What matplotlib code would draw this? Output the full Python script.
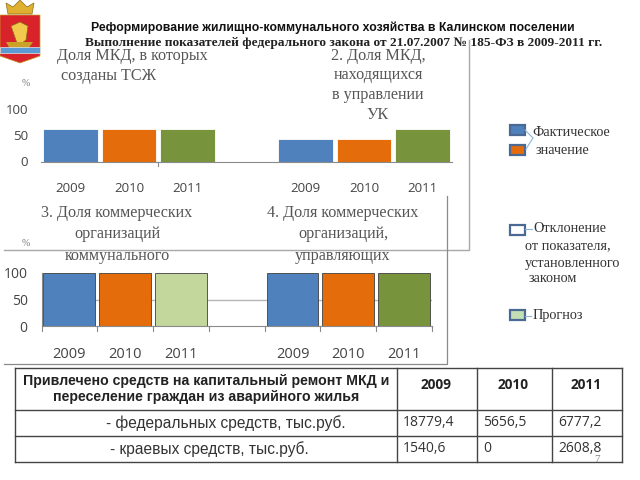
import matplotlib
matplotlib.use("Agg")
import matplotlib.pyplot as plt
import numpy as np
from matplotlib.patches import Polygon, Rectangle

years = ["2009", "2010", "2011", "", "2009", "2010", "2011"]
top_values = [62, 62, 62, 0, 43, 43, 62]
bottom_values = [100, 100, 100, 0, 100, 100, 100]
top_colors = ["#4f81bd", "#e46c0a", "#77933c", "white", "#4f81bd", "#e46c0a", "#77933c"]
bottom_colors = ["#4f81bd", "#e46c0a", "#c3d69b", "white", "#4f81bd", "#e46c0a", "#77933c"]
y_ticks = [0, 50, 100]

table_head = "Привлечено средств на капитальный ремонт МКД и\nпереселение граждан из аварийного жилья"
table_years = ["2009", "2010", "2011"]
row_names = ["- федеральных средств, тыс.руб.", "- краевых средств, тыс.руб."]
federal = ["18779,4", "5656,5", "6777,2"]
regional = ["1540,6", "0", "2608,8"]

SANS = "Open Sans"
SERIF = "Liberation Serif"
GREY_TXT = "#555555"

fig = plt.figure(figsize=(6.4, 4.8), dpi=100)

# overlay in pixel coordinates, for frames, captions, legend and table
bg = fig.add_axes([0, 0, 1, 1])
bg.set_xlim(0, 640)
bg.set_ylim(480, 0)
bg.axis("off")


def px_axes(l, t, r, b):
    a = fig.add_axes([l / 640, 1 - b / 480, (r - l) / 640, (b - t) / 480])
    a.patch.set_alpha(0)
    return a


def chart(a, values, colors, edge):
    a.bar(np.arange(len(values)), values, width=0.93, color=colors, edgecolor=edge, linewidth=0.6)
    a.set_xlim(-0.5, 6.5)
    a.set_ylim(0, 100)
    a.set_yticks(y_ticks)
    a.set_xticks(np.arange(len(years)))
    a.set_xticklabels(years, fontfamily=SANS, fontsize=9.5, color="#444444")
    a.tick_params(axis="y", labelsize=9.5, length=0, pad=9.5, labelcolor="#444444")
    for lab in a.get_yticklabels():
        lab.set_fontfamily(SANS)
    for s in ["top", "right", "left"]:
        a.spines[s].set_visible(False)
    a.spines["bottom"].set_color("#8a8a8a")


# frames left over from the slide
bg.plot([4, 468.5, 468.5], [249.5, 249.5, 40], color="#a8a8a8", lw=1)
bg.plot([4, 447, 447], [364, 364, 196], color="#8a8a8a", lw=0.9)

# top pair of charts
ax1 = px_axes(41, 109, 452, 161.5)
chart(ax1, top_values, top_colors, "white")
ax1.tick_params(axis="x", length=0, pad=15)
ax1.plot([1.5, 1.5], [0, -9], color="#8a8a8a", lw=0.8, clip_on=False)

# bottom pair of charts
ax2 = px_axes(41.5, 273, 432, 326)
ax2.axhline(50, color="#b5b5b5", lw=1, zorder=0)
chart(ax2, bottom_values, bottom_colors, "#404040")
ax2.tick_params(axis="x", length=0, pad=15, labelsize=10.5)
ax2.tick_params(axis="y", labelsize=10, pad=10)
ax2.spines["left"].set_visible(True)
ax2.spines["left"].set_color("#8a8a8a")
ax2.spines["left"].set_bounds(0, 100)
for xt in np.arange(-0.5, 7):
    ax2.plot([xt, xt], [0, -9], color="#8a8a8a", lw=0.8, clip_on=False)

# captions
titles = [
    (57, 56, "Доля МКД, в которых", "left"), (61, 76, "созданы ТСЖ", "left"),
    (378, 56, "2. Доля МКД,", "center"), (378, 75, "находящихся", "center"),
    (378, 95, "в управлении", "center"), (378, 115, "УК", "center"),
    (117, 213, "3. Доля коммерческих", "center"), (117, 234, "организаций", "center"),
    (117, 256, "коммунального", "center"),
    (343, 213, "4. Доля коммерческих", "center"), (343, 234, "организаций,", "center"),
    (343, 256, "управляющих", "center"),
]
for x, y, s, ha in titles:
    bg.text(x, y, s, family=SERIF, fontsize=11.6, color=GREY_TXT, ha=ha, va="center")
bg.text(26, 83, "%", family=SERIF, fontsize=7, color="#777777", ha="center", va="center")
bg.text(26, 244, "%", family=SERIF, fontsize=7, color="#777777", ha="center", va="center")

bg.text(333, 28, "Реформирование жилищно-коммунального хозяйства в Калинском поселении",
        family="Liberation Sans", fontsize=8.85, weight="bold", color="#111111", ha="center", va="center")
bg.text(344, 43, "Выполнение показателей федерального закона от 21.07.2007 № 185-ФЗ в 2009-2011 гг.",
        family=SERIF, fontsize=9.6, weight="bold", color="#222222", ha="center", va="center")

# emblem
bg.add_patch(Polygon([(0, 15), (40, 15), (40, 56), (20, 63), (0, 56)], fc="#d8232a", ec="#c9a227", lw=0.5))
bg.add_patch(Polygon([(8, 14), (6, 3), (13, 7), (20, 0), (27, 7), (34, 3), (32, 14)], fc="#e0b030", ec="#8a6d1a", lw=0.5))
bg.add_patch(Polygon([(11, 26), (20, 22), (28, 26), (26, 40), (18, 46)], fc="#f2c94c", ec="#8a6d1a", lw=0.5))
bg.add_patch(Polygon([(6, 42), (33, 42), (28, 49), (10, 49)], fc="#c9a227", ec="none"))
bg.add_patch(Polygon([(0, 47), (40, 47), (40, 53), (0, 53)], fc="#5b9bd5", ec="#e8e8e8", lw=0.5))

# legend
legend_boxes = [
    (510, 125, "#4f81bd"), (510, 145, "#e46c0a"),
    (510, 225, "white"), (510, 310, "#c3e0b4"),
]
for x, y, c in legend_boxes:
    bg.add_patch(Rectangle((x, y), 15, 10, fc=c, ec="#4a6a94", lw=1.6))
bg.plot([525, 533, 526], [130, 138, 149], color="#8db3d9", lw=0.8)
bg.plot([525, 532], [229, 229], color="#8db3d9", lw=0.8)
bg.plot([525, 531], [316, 316], color="#8db3d9", lw=0.8)
legend_text = [
    (532, 133, "Фактическое"), (536, 151, "значение"),
    (533, 228, "Отклонение"), (525, 246, "от показателя,"), (525, 263, "установленного"), (529, 279, "законом"),
    (533, 316, "Прогноз"),
]
for x, y, s in legend_text:
    bg.text(x, y, s, family=SERIF, fontsize=10.3, color="#333333", va="center")

# table
col_x = [15, 397, 477, 552, 622]
row_y = [368, 410, 436, 462]
for x in col_x:
    bg.plot([x, x], [row_y[0], row_y[-1]], color="#444444", lw=1)
for y in row_y:
    bg.plot([col_x[0], col_x[-1]], [y, y], color="#444444", lw=1)
bg.text(206, 389, table_head, family="Liberation Sans", fontsize=10.2, weight="bold", color="#222222",
        ha="center", va="center", linespacing=1.25)
for i, s in enumerate(table_years):
    bg.text((col_x[i + 1] + col_x[i + 2]) / 2 - 1, 385, s, family=SANS, fontsize=9.8, weight="bold", color="#222222",
            ha="center", va="center")
bg.text(226, 423, row_names[0], family="Liberation Sans", fontsize=11.2, color="#333333", ha="center", va="center")
bg.text(209, 449, row_names[1], family="Liberation Sans", fontsize=11.2, color="#333333", ha="center", va="center")
for i in range(3):
    bg.text(col_x[i + 1] + 6, 423, federal[i], family=SANS, fontsize=10, color="#333333", va="center")
    bg.text(col_x[i + 1] + 6, 449, regional[i], family=SANS, fontsize=10, color="#333333", va="center")
bg.text(597, 459, "7", family=SERIF, fontsize=8, color="#888888", ha="center", va="center")

fig.savefig("out.png", dpi=100)
